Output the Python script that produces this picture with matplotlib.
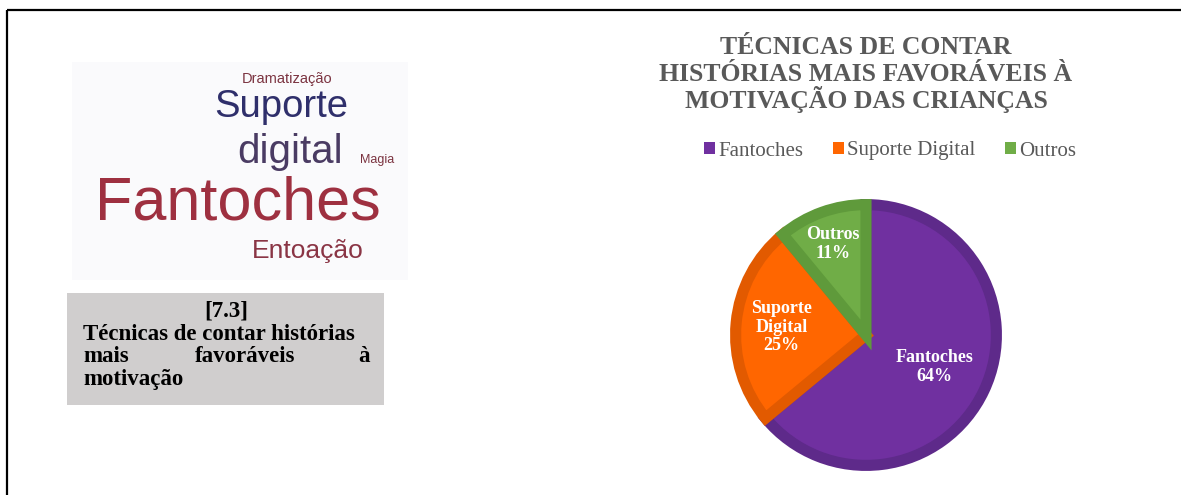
import matplotlib
matplotlib.use("Agg")
import matplotlib.pyplot as plt
from matplotlib.patches import Rectangle
import numpy as np

# data
categories = ["Fantoches", "Suporte Digital", "Outros"]
pie_labels = ["Fantoches", "Suporte\nDigital", "Outros"]
shares = [64, 25, 11]
colors = ["#7030A0", "#FF6600", "#70AD47"]
edge_colors = ["#5E2A8A", "#E25A00", "#5F9A3B"]

cloud_words = ["Dramatização", "Suporte", "digital", "Magia", "Fantoches", "Entoação"]
cloud_sizes = [10.5, 27.5, 29, 9, 44, 19]
cloud_colors = ["#7B3340", "#2F2F6B", "#4A3B63", "#7B3340", "#9E3040", "#8A3545"]

title_lines = ["TÉCNICAS DE CONTAR", "HISTÓRIAS MAIS FAVORÁVEIS À", "MOTIVAÇÃO DAS CRIANÇAS"]

W, H = 1181, 495
fig = plt.figure(figsize=(W / 100, H / 100), dpi=100)
fig.patch.set_facecolor("white")

# background axes in pixel coordinates
bg = fig.add_axes([0, 0, 1, 1])
bg.set_xlim(0, W)
bg.set_ylim(H, 0)
bg.axis("off")

# page border (top and left)
bg.plot([7, W], [10, 10], color="black", lw=1.6, solid_capstyle="butt")
bg.plot([7, 7], [10, H], color="black", lw=1.6, solid_capstyle="butt")

# word cloud picture
bg.add_patch(Rectangle((72, 62), 336, 218, facecolor="#FAFAFC", edgecolor="none"))
cloud_xy = [(287, 83), (281, 117), (290, 163), (377, 163), (238, 220), (308, 258)]
for word, size, col, (x, y) in zip(cloud_words, cloud_sizes, cloud_colors, cloud_xy):
    bg.text(x, y, word, fontsize=size, color=col, family="Liberation Sans",
            ha="center", va="baseline")

# caption box
bg.add_patch(Rectangle((67, 293), 317, 112, facecolor="#D0CECE", edgecolor="none"))
cap = dict(fontsize=16.5, fontweight="bold", family="Liberation Serif", color="black", va="baseline")
bg.text(226, 317, "[7.3]", ha="center", **cap)
bg.text(83, 340, "Técnicas de contar histórias", ha="left", **cap)
bg.text(83, 362, "mais", ha="left", **cap)
bg.text(245, 362, "favoráveis", ha="center", **cap)
bg.text(370, 362, "à", ha="right", **cap)
bg.text(83, 385, "motivação", ha="left", **cap)

# chart title
for line, y in zip(title_lines, [54, 81, 108]):
    bg.text(866, y, line, ha="center", va="baseline", fontsize=18.5, fontweight="bold",
            family="Liberation Serif", color="#595959")

# pie
cx, cy, r = 866, 335, 133
pax = fig.add_axes([(cx - r) / W, (H - cy - r) / H, 2 * r / W, 2 * r / H])
wedges, _ = pax.pie(shares, colors=colors, startangle=90, counterclock=False,
                    radius=1.0)
for w, ec in zip(wedges, edge_colors):
    w.set_edgecolor(ec)
    w.set_linewidth(8)
    w.set_joinstyle("miter")
    w.set_clip_path(w)
pax.set_xlim(-1.02, 1.02)
pax.set_ylim(-1.02, 1.02)
pax.set_aspect("equal")
pax.axis("off")

label_r = [0.58, 0.65, 0.74]
for w, lab, val, d in zip(wedges, pie_labels, shares, label_r):
    ang = np.deg2rad((w.theta1 + w.theta2) / 2)
    pax.text(d * np.cos(ang), d * np.sin(ang), f"{lab}\n{val}%", ha="center", va="center",
             fontsize=13, fontweight="bold", family="Liberation Serif", color="white",
             linespacing=1.15)

# legend
leg = fig.legend(wedges, categories, loc="center", bbox_to_anchor=(890 / W, 1 - 151 / H),
                 ncol=3, frameon=False, handlelength=0.5, handleheight=0.5,
                 handletextpad=0.15, columnspacing=1.45,
                 prop={"family": "Liberation Serif", "size": 15})
for t in leg.get_texts():
    t.set_color("#595959")
for h in leg.legend_handles:
    h.set_linewidth(0)

fig.savefig("out.png", dpi=100)
